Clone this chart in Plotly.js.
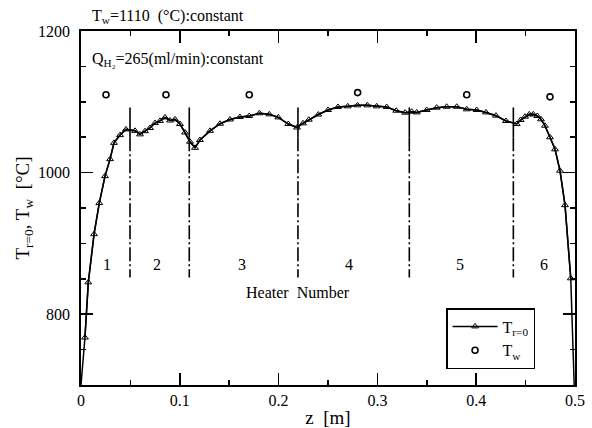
<!DOCTYPE html>
<html>
<head>
<meta charset="utf-8">
<script src="https://cdn.plot.ly/plotly-3.0.1.min.js"></script>
<style>html,body{margin:0;padding:0;background:#fff;}#chart{width:592px;height:428px;}</style>
</head>
<body>
<div id="chart"></div>
<script>
// Centre-line temperature T(r=0) along z
const zCenter = [0, 0.004, 0.0074, 0.0132, 0.0185, 0.0243, 0.0294, 0.0334, 0.0395, 0.0455,
  0.0547, 0.0597, 0.0648, 0.0698, 0.0749, 0.080, 0.085, 0.0901, 0.0951, 0.1002, 0.1053, 0.1103,
  0.1154, 0.1204, 0.1306, 0.1407, 0.1508, 0.1609, 0.1703, 0.1805, 0.1906, 0.1997, 0.2098, 0.2186,
  0.2247, 0.2306, 0.2402, 0.25, 0.2601, 0.270, 0.2799, 0.2898, 0.2993, 0.3094, 0.3191, 0.3281,
  0.3347, 0.3398, 0.3499, 0.360, 0.3701, 0.3803, 0.3904, 0.4005, 0.4099, 0.420, 0.4301, 0.441,
  0.445, 0.4494, 0.4537, 0.4578, 0.4618, 0.4656, 0.4696, 0.4747, 0.4798, 0.4848, 0.4899, 0.4957, 0.4992];
const tCenter = [700, 767, 845, 913, 957, 995, 1019, 1042, 1053, 1061,
  1059, 1054, 1058.5, 1063, 1070, 1073, 1078, 1073.6, 1075.3, 1068.6, 1056.6, 1043.6,
  1035, 1046, 1059, 1069, 1075, 1078.5, 1080, 1083.8, 1082.3, 1078, 1068.6, 1063.7,
  1069.6, 1074.7, 1082, 1088.4, 1092.7, 1093.6, 1095, 1095, 1093.6, 1092.7, 1087.4, 1084.6,
  1086, 1085, 1088.4, 1091.7, 1093, 1093, 1089.4, 1088.4, 1085, 1080.4, 1072.9, 1068.6,
  1074.3, 1079, 1082.3, 1082.3, 1080, 1075.3, 1066.2, 1049.9, 1032.9, 1002.7, 954, 850.7, 700];

// Wall temperature Tw
const zWall = [0.0253, 0.086, 0.1703, 0.280, 0.3904, 0.4747];
const tWall = [1110, 1110, 1110, 1113, 1110, 1107];

// Heater boundaries and labels
const heaterBounds = [0.0496, 0.1096, 0.2196, 0.3323, 0.4376];
const heaterNames = ['1', '2', '3', '4', '5', '6'];
const heaterLabelZ = [0.026, 0.0766, 0.1626, 0.2716, 0.3836, 0.4686];

// Tick labels
const xTickVals = [0, 0.1, 0.2, 0.3, 0.4, 0.5];
const xTickText = ['0', '0.1', '0.2', '0.3', '0.4', '0.5'];
const yTickVals = [800, 1000, 1200];
const yTickText = ['800', '1000', '1200'];

const FONT = 'Liberation Serif';

const traces = [
  { x: zCenter, y: tCenter, mode: 'lines', showlegend: false, hoverinfo: 'skip',
    line: { color: '#000', width: 1.5 } },
  { x: zCenter.slice(1, -1), y: tCenter.slice(1, -1), mode: 'lines+markers', name: 'T<sub>r=0</sub>',
    line: { color: '#000', width: 1.5 },
    marker: { symbol: 'triangle-up-open', size: 6, color: '#000', line: { color: '#000', width: 1 } } },
  { x: zWall, y: tWall, mode: 'markers', name: 'T<sub>w</sub>',
    marker: { symbol: 'circle-open', size: 6, color: '#000', line: { color: '#000', width: 1.6 } } }
];

const shapes = [];
heaterBounds.forEach(b => {
  shapes.push({ type: 'line', xref: 'x', yref: 'y', x0: b, x1: b, y0: 1092, y1: 1050,
    line: { color: '#000', width: 1.6 } });
  shapes.push({ type: 'line', xref: 'x', yref: 'y', x0: b, x1: b, y0: 1050, y1: 852,
    line: { color: '#000', width: 1.6, dash: '14px,3px,2px,3px' } });
});

const annotations = heaterNames.map((n, i) => ({
  x: heaterLabelZ[i], y: 870, xref: 'x', yref: 'y', text: n, showarrow: false,
  font: { family: FONT, size: 16, color: '#000' }
}));
annotations.push({ x: 0.2196, y: 830, xref: 'x', yref: 'y', text: 'Heater&nbsp;&nbsp;Number', showarrow: false,
  font: { family: FONT, size: 16, color: '#000' } });
annotations.push({ x: 0.018, y: 1.04, xref: 'paper', yref: 'paper', xanchor: 'left', yanchor: 'middle',
  text: 'T<sub>w</sub>=1110&nbsp;&nbsp;(°C):constant', showarrow: false,
  font: { family: FONT, size: 16, color: '#000' } });
annotations.push({ x: 0.019, y: 0.92, xref: 'paper', yref: 'paper', xanchor: 'left', yanchor: 'middle',
  text: 'Q<sub>H₂</sub>=265(ml/min):constant', showarrow: false,
  font: { family: FONT, size: 16, color: '#000' } });

const layout = {
  width: 592, height: 428,
  margin: { l: 81, r: 17, t: 31, b: 43, pad: 0 },
  paper_bgcolor: '#fff', plot_bgcolor: '#fff',
  font: { family: FONT, size: 16, color: '#000' },
  showlegend: true,
  legend: { x: 0.739, y: 0.2175, xanchor: 'left', yanchor: 'top', bgcolor: '#fff',
    bordercolor: '#000', borderwidth: 1.5, itemwidth: 45,
    font: { family: FONT, size: 16, color: '#000' } },
  xaxis: { range: [0, 0.5], showgrid: false, zeroline: false, showline: true, linecolor: '#000', linewidth: 1.8,
    mirror: 'ticks', ticks: 'inside', ticklen: 12, tickwidth: 1.5, tickcolor: '#000',
    tickvals: xTickVals, ticktext: xTickText, tickfont: { family: FONT, size: 16, color: '#000' },
    minor: { dtick: 0.05, ticks: 'inside', ticklen: 5, tickwidth: 1.5, tickcolor: '#000', showgrid: false },
    title: { text: 'z&nbsp;&nbsp;[m]', font: { family: FONT, size: 19, color: '#000' }, standoff: 4 } },
  yaxis: { range: [700, 1200], showgrid: false, zeroline: false, showline: true, linecolor: '#000', linewidth: 1.8,
    mirror: 'ticks', ticks: 'inside', ticklen: 12, tickwidth: 1.5, tickcolor: '#000',
    tickvals: yTickVals, ticktext: yTickText, tickfont: { family: FONT, size: 16, color: '#000' },
    ticklabelstandoff: 6,
    minor: { dtick: 50, ticks: 'inside', ticklen: 5, tickwidth: 1.5, tickcolor: '#000', showgrid: false },
    title: { text: 'T<sub>r=0</sub>, T<sub>w</sub>&nbsp;&nbsp;[°C]', font: { family: FONT, size: 19, color: '#000' }, standoff: 3 } },
  shapes: shapes,
  annotations: annotations
};

Plotly.newPlot('chart', traces, layout, { staticPlot: true, displayModeBar: false });
</script>
</body>
</html>
